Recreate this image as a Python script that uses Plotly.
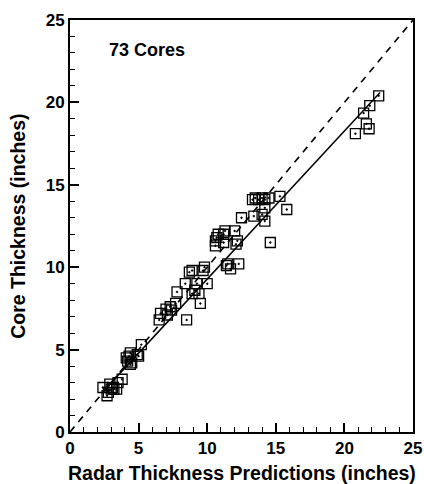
import plotly.graph_objects as go

radar = [2.4, 2.7, 2.8, 2.9, 3.0, 3.1, 3.2, 3.4, 3.5, 3.8,
         4.1, 4.3, 4.4, 4.5, 4.4, 4.9, 5.0, 5.2, 4.2,
         6.5, 6.6, 7.0, 7.1, 7.4, 7.7, 7.8, 8.4, 8.7, 8.5, 7.3,
         8.9, 9.4, 9.25, 10.0, 9.5, 9.7, 9.8, 8.9, 9.1,
         10.6, 10.6, 10.7, 10.8, 11.2, 11.3, 12.0, 12.1, 12.2, 11.4, 11.5, 11.7, 12.3, 12.5, 11.2,
         13.3, 13.5, 13.75, 14.0, 14.2, 14.5, 15.3, 15.8, 14.2, 13.4, 14.0, 14.2, 14.6,
         22.5, 21.85, 21.4, 21.6, 21.8, 20.8]
core = [2.7, 2.2, 2.4, 2.9, 2.6, 2.7, 2.6, 2.6, 3.0, 3.2,
        4.5, 4.6, 4.8, 4.2, 4.1, 4.7, 4.6, 5.3, 4.3,
        6.8, 7.2, 7.45, 7.1, 7.4, 7.8, 8.5, 9.0, 9.7, 6.8, 7.6,
        8.4, 8.4, 9.0, 9.0, 7.8, 9.8, 10.0, 9.8, 8.6,
        11.3, 11.6, 11.8, 12.0, 12.0, 12.2, 12.2, 11.4, 11.6, 10.1, 10.2, 9.9, 10.2, 13.0, 11.5,
        14.1, 14.2, 14.1, 14.2, 14.1, 14.2, 14.3, 13.5, 13.6, 13.1, 13.2, 12.8, 11.5,
        20.4, 19.8, 19.35, 18.7, 18.4, 18.1]

fit_x = [2.4, 22.6]
fit_y = [2.45, 20.6]
one_to_one = [0, 25]

x_title = "Radar Thickness Predictions (inches)"
y_title = "Core Thickness (inches)"
label = "73 Cores"

font_family = "Liberation Sans, Arial, sans-serif"

fig = go.Figure()
fig.add_trace(go.Scatter(x=one_to_one, y=one_to_one, mode="lines",
                         line=dict(color="black", width=1.6, dash="7px,6px"),
                         showlegend=False, hoverinfo="skip"))
fig.add_trace(go.Scatter(x=fit_x, y=fit_y, mode="lines",
                         line=dict(color="black", width=1.5),
                         showlegend=False, hoverinfo="skip"))
fig.add_trace(go.Scatter(x=radar, y=core, mode="markers",
                         marker=dict(symbol="square-open-dot", size=10, color="black",
                                     line=dict(width=1.3, color="black")),
                         showlegend=False))

fig.add_annotation(x=2.7, y=23.2, text="<b>" + label + "</b>", showarrow=False,
                   xanchor="left", yanchor="middle",
                   font=dict(family=font_family, size=18, color="black"))
fig.add_annotation(xref="paper", yref="paper", x=0.5, y=-0.1,
                   text="<b>" + x_title + "</b>", showarrow=False,
                   xanchor="center", yanchor="middle",
                   font=dict(family=font_family, size=19.5, color="black"))
fig.add_annotation(xref="paper", yref="paper", x=-0.152, y=0.5, textangle=-90,
                   text="<b>" + y_title + "</b>", showarrow=False,
                   xanchor="center", yanchor="middle",
                   font=dict(family=font_family, size=19.5, color="black"))

axis_common = dict(range=[0, 25], dtick=5, tick0=0, ticks="inside", ticklen=9, tickwidth=1.5,
                   tickcolor="black", showline=True, linecolor="black", linewidth=2,
                   mirror=True, showgrid=False, zeroline=False, automargin=False,
                   ticklabeloverflow="allow",
                   tickprefix="<b>", ticksuffix="</b>",
                   tickfont=dict(family=font_family, size=17, color="black"),
                   minor=dict(ticks="inside", dtick=1, ticklen=5, tickwidth=1.3, tickcolor="black"))

fig.update_xaxes(**axis_common)
fig.update_yaxes(**axis_common)

fig.update_layout(width=424, height=484, margin=dict(l=70, r=11, t=20, b=52),
                  plot_bgcolor="white", paper_bgcolor="white",
                  font=dict(family=font_family, color="black"))

fig.write_html("out.html", config={"displayModeBar": False},
               post_script="document.body.style.margin='0';document.body.style.overflow='hidden';")
